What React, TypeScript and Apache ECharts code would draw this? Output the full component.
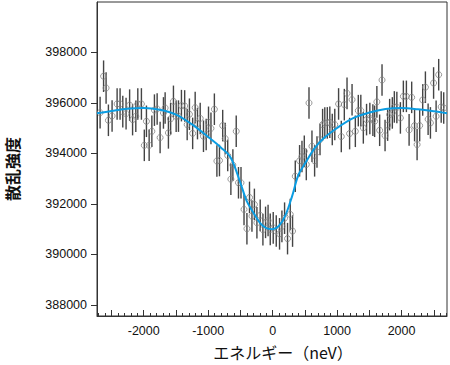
import React, { useEffect, useRef } from "react";
import * as echarts from "echarts";

const X_NEV = [
  -2677, -2623, -2584, -2548, -2491, -2413, -2367, -2325, -2274, -2219,
  -2173, -2123, -2092, -2036, -1991, -1958, -1916, -1874, -1834, -1792,
  -1746, -1694, -1668, -1617, -1583, -1539, -1497, -1461, -1415, -1365,
  -1326, -1291, -1241, -1202, -1166, -1124, -1073, -1031, -995, -957,
  -904, -865, -825, -775, -736, -697, -648, -617, -565, -530,
  -491, -444, -399, -359, -321, -283, -244, -193, -151, -110,
  -71, -37, 9, 56, 107, 144, 185, 231, 273, 309,
  351, 418, 455, 491, 522, 564, 610, 651, 688, 735,
  775, 809, 848, 887, 925, 964, 1023, 1065, 1112, 1154,
  1194, 1232, 1283, 1329, 1368, 1407, 1457, 1508, 1555, 1582,
  1617, 1660, 1697, 1744, 1784, 1815, 1857, 1888, 1927, 1982,
  2028, 2075, 2117, 2157, 2202, 2241, 2281, 2328, 2370, 2412,
  2448, 2497, 2536, 2576, 2615, 2654,
];

const INTENSITY = [
  395617, 397060, 396594, 395313, 395487, 395961, 395961, 395657, 395578, 395914,
  395341, 395471, 395961, 395961, 394321, 395274, 394321, 394878, 395716, 395764,
  394629, 395605, 395803, 394815, 395372, 396064, 395471, 395479, 395894, 395882,
  395143, 395554, 394795, 395815, 395183, 395388, 394681, 394748, 395234, 394993,
  395752, 393700, 393720, 395103, 394590, 393918, 392981, 393542, 394878, 392838,
  392838, 391783, 391020, 392257, 391518, 391981, 391257, 391546, 390981, 391269,
  391340, 390992, 391052, 390925, 390815, 391111, 391435, 390625, 391585, 390925,
  393099, 393708, 393878, 394088, 393562, 396001, 394285, 393708, 394056, 394550,
  395143, 395210, 395210, 395234, 394945, 395143, 395961, 394669, 395934, 396380,
  394787, 396131, 394878, 395696, 395696, 395013, 395341, 395388, 395321, 395274,
  396044, 394918, 396910, 394708, 395123, 395538, 395605, 395843, 395823, 395408,
  396262, 396262, 394933, 396222, 395103, 394352, 395103, 396119, 396625, 395353,
  395210, 396791, 395471, 397120, 395843, 395803,
];

// Error bar half-length (counts)
const ERROR = 625;

// Fitted curve
const FIT_X = [
  -2725, -2500, -2250, -2000, -1750, -1500, -1250, -1000, -800, -650,
  -500, -400, -300, -200, -100, 0, 100, 200, 300, 400,
  500, 650, 800, 1000, 1250, 1500, 1750, 2000, 2250, 2500, 2705,
];
const FIT_Y = [
  395590, 395680, 395770, 395800, 395730, 395540, 395150, 394650, 394230, 393830,
  392830, 392100, 391660, 391260, 391040, 391000, 391140, 391560, 392290, 393150,
  393590, 394200, 394620, 395010, 395400, 395620, 395760, 395800, 395750, 395670, 395590,
];

const Y_TICKS = [388000, 390000, 392000, 394000, 396000, 398000];
const X_LABELS = [-2000, -1000, 0, 1000, 2000];
const X_MID_TICKS = [-2500, -2000, -1500, -1000, -500, 0, 500, 1000, 1500, 2000, 2500];

const X_MIN = -2725;
const X_MAX = 2705;
const Y_MIN = 387560;
const Y_MAX = 400000;

const X_NAME = "エネルギー（neV）";
const Y_NAME = "散乱強度";

const LABEL_FONT = "'Liberation Sans'";

export default function App() {
  const ref = useRef<HTMLDivElement>(null);

  useEffect(() => {
    document.body.style.margin = "0";
    if (!ref.current) return;
    const chart = echarts.init(ref.current, undefined, { renderer: "svg" });

    const minorTicks: number[] = [];
    for (let v = -2700; v <= 2700; v += 100) minorTicks.push(v);

    const points = X_NEV.map((x, i) => [x, INTENSITY[i]]);
    const bars = X_NEV.map((x, i) => [x, INTENSITY[i] - ERROR, INTENSITY[i] + ERROR]);
    const fit = FIT_X.map((x, i) => [x, FIT_Y[i]]);

    const axisColor = "#333";
    const plain = (v: number) => String(v);

    chart.setOption({
      animation: false,
      grid: {
        left: 97,
        right: 3,
        top: 2,
        bottom: 49,
        show: true,
        borderColor: axisColor,
        borderWidth: 1,
        backgroundColor: "transparent",
      },
      xAxis: [
        {
          type: "value",
          min: X_MIN,
          max: X_MAX,
          position: "bottom",
          axisLine: { show: true, onZero: false, lineStyle: { color: axisColor, width: 1 } },
          axisTick: {
            show: true,
            inside: true,
            length: 6,
            customValues: X_MID_TICKS,
            lineStyle: { color: axisColor },
          },
          axisLabel: {
            customValues: X_LABELS,
            formatter: plain,
            margin: 8,
            fontSize: 12.5,
            color: "#111",
            fontFamily: LABEL_FONT,
          },
          splitLine: { show: false },
        },
        {
          type: "value",
          min: X_MIN,
          max: X_MAX,
          position: "bottom",
          axisLine: { show: false, onZero: false },
          axisTick: {
            show: true,
            inside: true,
            length: 3,
            customValues: minorTicks,
            lineStyle: { color: axisColor },
          },
          axisLabel: { show: false },
          splitLine: { show: false },
        },
      ],
      yAxis: {
        type: "value",
        min: Y_MIN,
        max: Y_MAX,
        position: "left",
        axisLine: { show: true, onZero: false, lineStyle: { color: axisColor, width: 1 } },
        axisTick: {
          show: true,
          inside: false,
          length: 6,
          customValues: Y_TICKS,
          lineStyle: { color: axisColor },
        },
        axisLabel: {
          customValues: Y_TICKS,
          formatter: plain,
          margin: 10,
          fontSize: 12.5,
          color: "#111",
          fontFamily: LABEL_FONT,
        },
        splitLine: { show: false },
      },
      graphic: [
        {
          type: "text",
          x: 12,
          y: 169,
          rotation: Math.PI / 2,
          style: {
            text: Y_NAME,
            font: "bold 16px 'Noto Sans CJK JP'",
            fill: "#111",
            align: "center",
            verticalAlign: "middle",
          },
        },
        {
          type: "text",
          x: 283,
          y: 352,
          style: {
            text: X_NAME,
            font: "16px 'Noto Sans CJK JP'",
            fill: "#111",
            align: "center",
            verticalAlign: "middle",
          },
        },
      ],
      series: [
        {
          type: "custom",
          data: bars,
          encode: { x: 0, y: [1, 2] },
          z: 2,
          renderItem: (params: any, api: any) => {
            const p1 = api.coord([api.value(0), api.value(1)]);
            const p2 = api.coord([api.value(0), api.value(2)]);
            return {
              type: "line",
              shape: { x1: p1[0], y1: p1[1], x2: p2[0], y2: p2[1] },
              style: { stroke: "#444", lineWidth: 1.4 },
            };
          },
        },
        {
          type: "scatter",
          data: points,
          symbol: "circle",
          symbolSize: 6,
          z: 3,
          itemStyle: {
            color: "rgba(0,0,0,0)",
            borderColor: "#808080",
            borderWidth: 1,
          },
        },
        {
          type: "line",
          data: fit,
          smooth: 0.35,
          showSymbol: false,
          z: 4,
          lineStyle: { color: "#0a9de3", width: 2 },
        },
      ],
    });

    return () => chart.dispose();
  }, []);

  return <div ref={ref} style={{ width: 450, height: 365 }} />;
}
